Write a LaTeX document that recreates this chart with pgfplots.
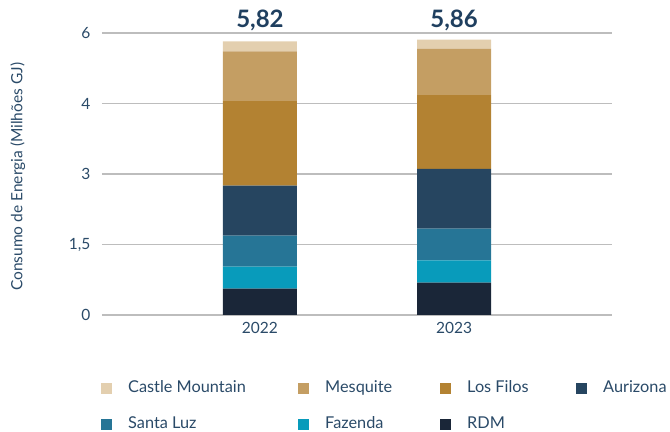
\documentclass[border=0pt]{standalone}
\usepackage{pgfplots}
\pgfplotsset{compat=1.18}
\usepackage{fontspec}
\setmainfont{Lato}
\definecolor{cCM}{HTML}{E3CFAF}
\definecolor{cMQ}{HTML}{C49E63}
\definecolor{cLF}{HTML}{B38232}
\definecolor{cAU}{HTML}{264560}
\definecolor{cSL}{HTML}{267596}
\definecolor{cFZ}{HTML}{089BBB}
\definecolor{cRD}{HTML}{1A2638}
\definecolor{txt}{HTML}{2A4A68}
\definecolor{tot}{HTML}{1F3F5F}
\definecolor{grd}{HTML}{BDBDBD}
\newcommand{\LE}[2]{\makebox[#1][l]{\hspace*{16pt}#2}}
\begin{document}
\begin{tikzpicture}
\begin{axis}[
  width=510pt, height=282pt, scale only axis,
  xmin=-0.814, xmax=1.814, ymin=0, ymax=6,
  ybar stacked, bar width=74pt,
  xtick={0,1}, xticklabels={2022,2023},
  ytick={0,1.5,3,4.5,6}, yticklabels={0,{1,5},3,4,6},
  ymajorgrids, grid style={draw=grd, line width=1.2pt},
  axis line style={draw=none}, major tick length=0pt,
  tick label style={font=\fontsize{15.5}{17}\selectfont, text=txt},
  yticklabel style={anchor=east, xshift=-8pt},
  xticklabel style={anchor=north, yshift=-4pt},
  ylabel={Consumo de Energia (Milhões GJ)},
  ylabel style={font=\fontsize{15.5}{17}\selectfont, text=txt, at={(axis description cs:-0.165,0.49)}, anchor=center},
  clip=false,
  legend columns=4,
  legend style={draw=none, fill=none, inner sep=0pt, at={(axis description cs:0,0)}, anchor=north west, xshift=-1pt, yshift=-66pt,
    font=\fontsize{16.3}{18}\selectfont, text=txt,
    nodes={inner sep=0pt, text height=11pt, text depth=3pt, anchor=west},
    column sep=0pt, row sep=22pt},
  legend image code/.code={\fill[#1] (0pt,-5.5pt) rectangle (11pt,5.5pt);},
  every axis plot/.append style={draw=none},
]
\addlegendimage{fill=cCM}
\addlegendimage{fill=cMQ}
\addlegendimage{fill=cLF}
\addlegendimage{fill=cAU}
\addlegendimage{fill=cSL}
\addlegendimage{fill=cFZ}
\addlegendimage{fill=cRD}
\addplot[fill=cRD, draw=none] coordinates {(0,0.56) (1,0.69)};
\addplot[fill=cFZ, draw=none] coordinates {(0,0.47) (1,0.47)};
\addplot[fill=cSL, draw=none] coordinates {(0,0.66) (1,0.68)};
\addplot[fill=cAU, draw=none] coordinates {(0,1.06) (1,1.27)};
\addplot[fill=cLF, draw=none] coordinates {(0,1.80) (1,1.57)};
\addplot[fill=cMQ, draw=none] coordinates {(0,1.06) (1,0.99)};
\addplot[fill=cCM, draw=none] coordinates {(0,0.21) (1,0.19)};
\legend{\LE{186pt}{Castle Mountain},\LE{131pt}{Mesquite},\LE{125pt}{Los Filos},\LE{60pt}{Aurizona},\LE{186pt}{Santa Luz},\LE{131pt}{Fazenda},\LE{125pt}{RDM}}
\node[font=\bfseries\fontsize{24}{26}\selectfont, text=tot, anchor=base] at (axis cs:0,6) [yshift=5pt] {5,82};
\node[font=\bfseries\fontsize{24}{26}\selectfont, text=tot, anchor=base] at (axis cs:1,6) [yshift=5pt] {5,86};
\coordinate (bl) at (axis description cs:-0.2,-0.4149);
\coordinate (tr) at (axis description cs:1.1137,1.117);
\end{axis}
\pgfresetboundingbox
\path[use as bounding box] (bl) rectangle (tr);
\end{tikzpicture}
\end{document}
